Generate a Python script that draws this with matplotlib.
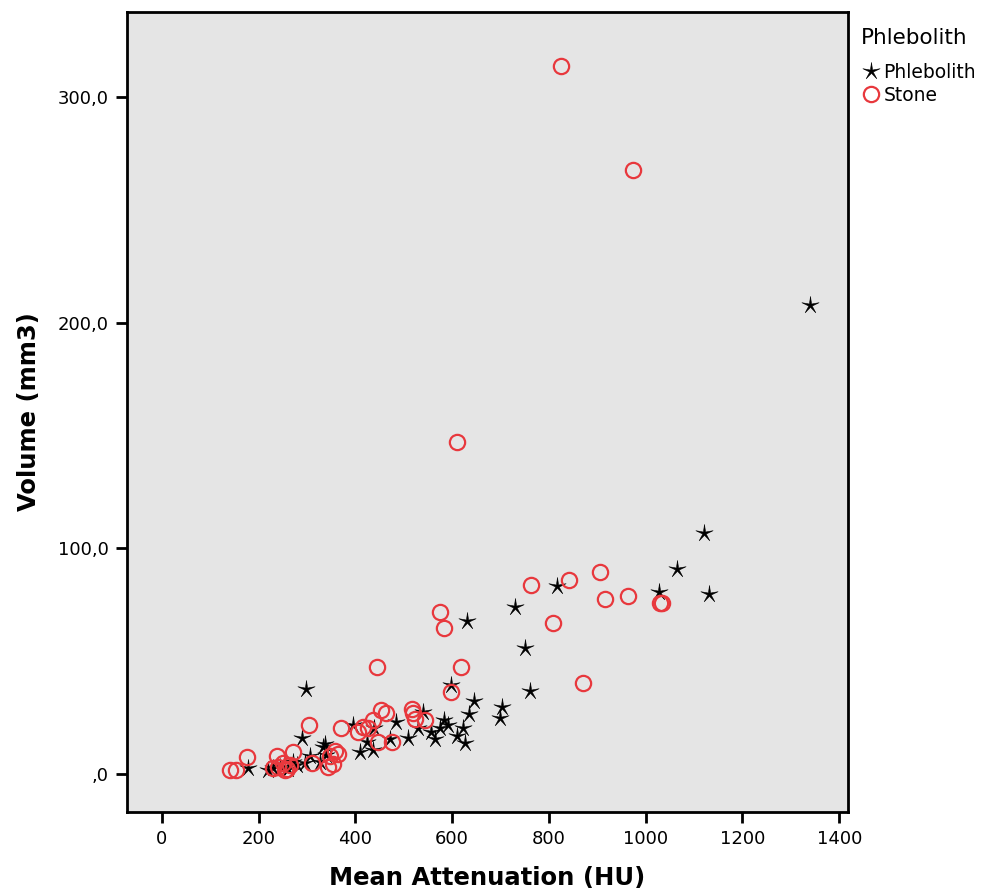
#!/usr/bin/python3

import numpy as np
import matplotlib as mpl
mpl.use("Agg")
import matplotlib.pyplot as plt
from matplotlib.path import Path

# values
phleb_hu = [1340, 1121, 1065, 1131, 1028, 817, 730, 751, 631, 761, 298, 598,
            645, 635, 703, 699, 540, 484, 395, 289, 337, 333, 438, 424, 409,
            436, 471, 509, 529, 556, 565, 583, 591, 575, 622, 610, 627, 178,
            219, 244, 279, 296, 306, 327, 271, 230, 339, 261]
phleb_vol = [207.8, 106.8, 91.0, 79.8, 80.6, 83.3, 74.0, 55.8, 67.8, 36.8,
             37.7, 39.4, 32.3, 26.6, 29.7, 24.8, 27.5, 23.0, 21.7, 15.9, 13.3,
             12.0, 20.4, 14.2, 9.7, 10.6, 15.5, 16.0, 20.4, 18.6, 15.5, 23.9,
             21.7, 20.4, 20.4, 16.8, 13.7, 2.7, 1.8, 3.1, 4.0, 4.9, 8.0, 5.3,
             5.3, 2.7, 8.5, 2.2]

stone_hu = [825, 974, 610, 1030, 1033, 964, 916, 906, 842, 763, 808, 583, 575,
            871, 445, 618, 598, 141, 153, 176, 238, 271, 304, 370, 230, 240,
            254, 265, 250, 310, 358, 347, 354, 343, 405, 416, 426, 436, 453,
            463, 447, 476, 517, 519, 523, 544, 259, 365]
stone_vol = [313.7, 267.6, 147.0, 76.0, 75.6, 79.0, 77.5, 89.5, 86.0, 84.0,
             67.0, 64.7, 71.8, 40.3, 47.4, 47.4, 36.3, 1.8, 1.8, 7.5, 8.0, 9.7,
             21.7, 20.4, 2.7, 3.1, 1.8, 4.0, 4.9, 4.9, 10.2, 8.0, 4.4, 3.1,
             18.6, 20.8, 20.4, 23.9, 28.4, 27.0, 14.2, 14.2, 28.8, 27.0, 24.4,
             23.9, 2.2, 9.0]

x_ticks = [0, 200, 400, 600, 800, 1000, 1200, 1400]
y_ticks = [0, 100, 200, 300]
y_tick_labels = [",0", "100,0", "200,0", "300,0"]

# thin five pointed star like the SPSS marker
ang = np.pi / 2 + np.arange(10) * np.pi / 5
rad = np.where(np.arange(10) % 2 == 0, 1.0, 0.2)
star_verts = np.column_stack([rad * np.cos(ang), rad * np.sin(ang)])
star_verts = np.vstack([star_verts, star_verts[:1]])
star = Path(star_verts, closed=True)

red = '#e8383d'

fig = plt.figure(figsize=(9.89, 8.94), dpi=100)
ax = fig.add_axes([0.1284, 0.0917, 0.729, 0.8949])
ax.set_facecolor('#e5e5e5')

ax.plot(phleb_hu, phleb_vol, linestyle='none', marker=star, markersize=13,
        color='black', markeredgewidth=0.4, label='Phlebolith')
ax.plot(stone_hu, stone_vol, linestyle='none', marker='o', markersize=11,
        markerfacecolor='none', markeredgecolor=red, markeredgewidth=1.6,
        label='Stone')

ax.set_xlim(-72, 1418)
ax.set_ylim(-16.8, 337.7)
ax.set_xticks(x_ticks)
ax.set_yticks(y_ticks)
ax.set_yticklabels(y_tick_labels)
ax.tick_params(direction='out', length=8, width=2, labelsize=13, pad=5)
for sp in ax.spines.values():
    sp.set_linewidth(2)

ax.set_xlabel("Mean Attenuation (HU)", fontsize=17.5, fontweight='bold', labelpad=13)
ax.set_ylabel("Volume (mm3)", fontsize=17.5, fontweight='bold', labelpad=12)

leg = ax.legend(title='Phlebolith', loc='upper left', bbox_to_anchor=(1.0, 0.997),
                frameon=False, fontsize=13.5, title_fontsize=15.5,
                handletextpad=0.1, handlelength=1.1, borderaxespad=0.3,
                labelspacing=0.2)
leg._legend_box.align = 'left'
leg._legend_box.sep = 11

fig.savefig("out.png", dpi=100)
